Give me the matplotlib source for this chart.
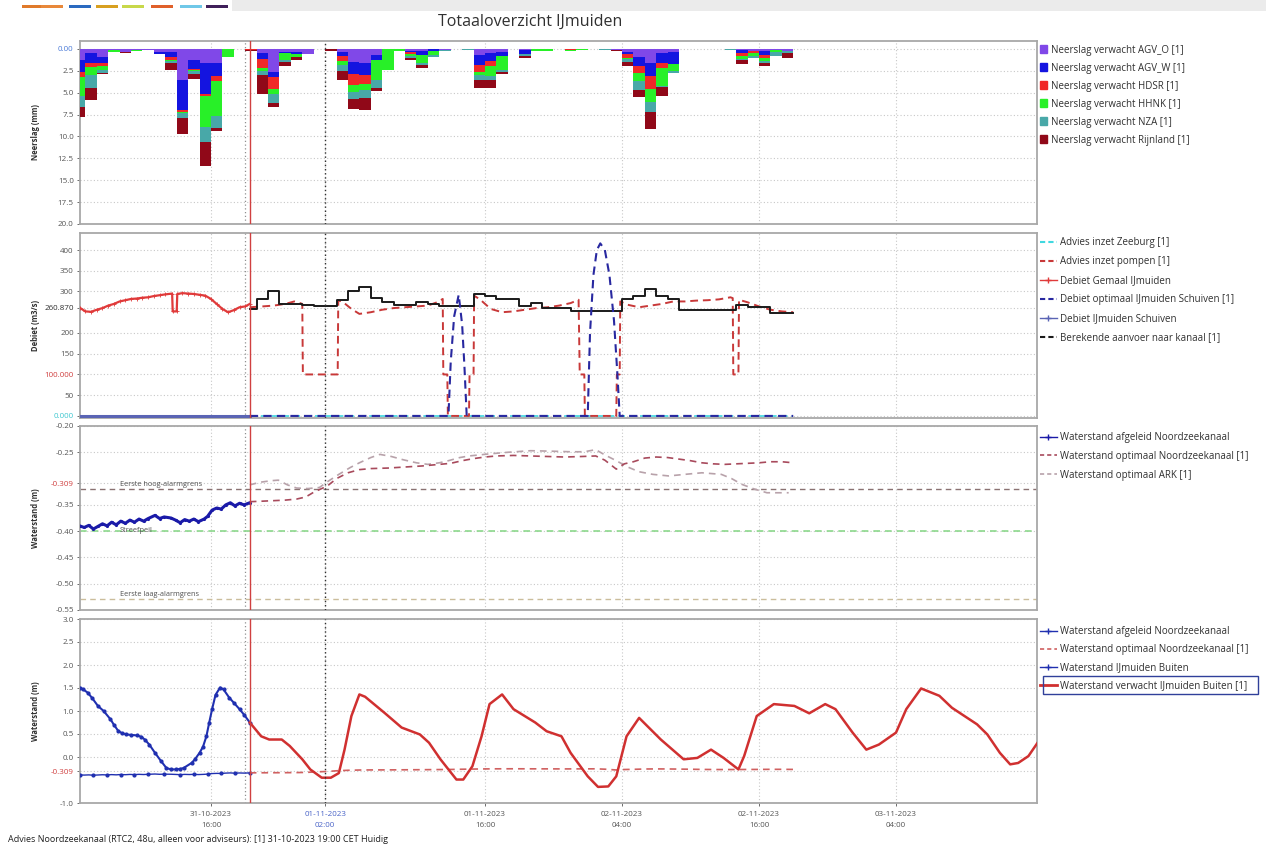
import matplotlib
matplotlib.use("Agg")
import matplotlib.pyplot as plt
from matplotlib.lines import Line2D
from matplotlib.patches import Patch, Rectangle
import numpy as np

plt.rcParams['font.family'] = ['Open Sans', 'DejaVu Sans']

# ---------------- data (time = hours since 31-10-2023 00:00) ----------------
x_ticks = [16, 26, 40, 52, 64, 76]
x_tick_labels = ["31-10-2023\n16:00", "01-11-2023\n02:00", "01-11-2023\n16:00",
                 "02-11-2023\n04:00", "02-11-2023\n16:00", "03-11-2023\n04:00"]
t_forecast = 19.0
t_now = 19.4
t_selected = 26.0
x_start, x_end = 4.53, 88.35

# Panel 1: precipitation, hourly (hour 4 .. 66)
rain_hours = list(range(4, 67))
rain_agv_o = [1.3, 0.45, 0.9, 0.1, 0.3, 0.1, 0.1, 0.3, 0.4, 3.5,
              1.3, 1.6, 1.6, 0, 0, 0, 0.5, 2.6, 0.3, 0.3,
              0.6, 0, 0, 0.4, 1.5, 1.6, 0.7, 0, 0, 0.2,
              0.2, 0, 0.1, 0, 0, 0.7, 0.5, 0.3, 0, 0.1,
              0, 0, 0, 0, 0, 0, 0, 0.1, 0.4, 0.9,
              1.6, 0.5, 0.4, 0, 0, 0, 0, 0, 0.1, 0.2,
              0.2, 0.1, 0.2]
rain_agv_w = [1.3, 1.15, 0.7, 0, 0, 0, 0, 0.3, 0.5, 3.5,
              1.0, 3.5, 1.5, 0, 0, 0, 0.7, 0.6, 0.2, 0.3,
              0, 0, 0, 0.4, 1.4, 1.4, 0.6, 0, 0, 0.2,
              0.5, 0.2, 0, 0, 0, 1.1, 0.9, 0.5, 0, 0.5,
              0, 0, 0, 0, 0, 0, 0, 0, 0.2, 1.0,
              1.5, 1.1, 1.3, 0, 0, 0, 0, 0, 0.4, 0,
              0.5, 0, 0]
rain_hdsr = [0.6, 0.5, 0.4, 0, 0, 0, 0, 0, 0.4, 0.2,
             0.1, 0.3, 0.6, 0, 0, 0.1, 1.0, 1.4, 0, 0,
             0, 0, 0, 0.6, 1.2, 1.0, 0, 0, 0, 0.2,
             0, 0, 0, 0, 0, 0.8, 0.5, 0, 0, 0,
             0, 0, 0, 0.1, 0, 0, 0, 0, 0.4, 0.9,
             1.5, 0.6, 0, 0, 0, 0, 0, 0, 0.3, 0.3,
             0.3, 0, 0]
rain_hhnk = [2.2, 0.9, 0.4, 0.2, 0, 0.1, 0, 0, 0.1, 0.1,
             0.1, 3.5, 4.0, 0.9, 0, 0, 0.3, 0.5, 0.8, 0.3,
             0, 0, 0, 0.4, 0.8, 0.7, 2.2, 2.4, 0.2, 0.2,
             0.9, 0.5, 0, 0, 0, 0.4, 1.2, 1.6, 0, 0,
             0.2, 0.2, 0, 0.1, 0.15, 0, 0, 0, 0.2, 0.9,
             1.5, 2.0, 0.8, 0, 0, 0, 0, 0, 0.3, 0.3,
             0.4, 0.2, 0]
rain_nza = [1.2, 1.5, 0.3, 0, 0, 0, 0, 0, 0.2, 0.6,
            0.4, 1.7, 1.3, 0, 0, 0, 0.5, 1.1, 0.2, 0,
            0, 0, 0, 0.7, 0.8, 0.9, 1.0, 0, 0, 0.2,
            0.2, 0.2, 0.1, 0, 0.1, 0.5, 0.4, 0.2, 0, 0.2,
            0, 0, 0, 0, 0, 0, 0.1, 0, 0.3, 1.0,
            1.1, 0.2, 0.3, 0, 0, 0, 0, 0.1, 0.2, 0.2,
            0.2, 0.5, 0.3]
rain_rijnland = [1.2, 1.3, 0.2, 0.1, 0.2, 0, 0, 0, 0.8, 1.8,
                 0.5, 2.8, 0.4, 0, 0, 0.1, 2.1, 0.4, 0.5, 0.4,
                 0, 0, 0.2, 1.0, 1.2, 1.4, 0.3, 0, 0, 0.3,
                 0.4, 0, 0, 0, 0, 1.0, 1.0, 0.3, 0, 0.2,
                 0, 0, 0, 0, 0, 0, 0, 0.1, 0.4, 0.8,
                 2.0, 1.0, 0, 0, 0, 0, 0, 0, 0.4, 0,
                 0.4, 0, 0.5]
rain_names = ["Neerslag verwacht AGV_O [1]", "Neerslag verwacht AGV_W [1]",
              "Neerslag verwacht HDSR [1]", "Neerslag verwacht HHNK [1]",
              "Neerslag verwacht NZA [1]", "Neerslag verwacht Rijnland [1]"]
rain_colors = ['#8048e8', '#1414e0', '#f02828', '#28f028', '#48a8a8', '#900818']

# Panel 2: discharge (m3/s)
gemaal_t = [4.5, 5.0, 5.5, 6.0, 6.5, 7.0, 7.5, 8.0, 8.5, 9.0, 9.5, 10.0, 10.5, 11.0,
            11.5, 12.0, 12.6, 12.65, 13.0, 13.05, 13.5, 14.0, 14.5, 15.0, 15.5, 16.0,
            16.5, 17.0, 17.5, 18.0, 18.5, 19.0, 19.4]
gemaal_q = [261, 252, 251, 256, 260, 266, 270, 276, 279, 282, 283, 285, 286, 289,
            291, 293, 295, 252, 252, 294, 296, 295, 294, 292, 290, 282,
            270, 258, 250, 255, 262, 264, 270]
schuiven_t = [4.5, 19.4]
schuiven_q = [0, 0]
zeeburg_t = [19.4, 67.0]
zeeburg_q = [0, 0]
pompen_t = [19.4, 20.5, 21.5, 22.5, 23.3, 23.8, 24.0, 24.05, 27.1, 27.15, 27.5, 28.3,
            29.0, 30.0, 31.0, 32.0, 33.0, 34.0, 35.0, 35.8, 36.3, 36.35, 36.7, 36.75,
            38.6, 38.65, 39.0, 39.05, 39.6, 40.5, 41.5, 42.5, 43.5, 44.5, 45.5, 46.5,
            47.5, 48.2, 48.3, 48.7, 48.75, 51.5, 51.55, 51.8, 51.85, 52.5, 53.5, 54.5,
            55.5, 56.5, 57.5, 58.5, 59.5, 60.5, 61.5, 61.7, 61.75, 62.2, 62.25, 63.0,
            64.0, 65.0, 66.0, 67.0]
pompen_q = [262, 264, 266, 270, 276, 272, 270, 100, 100, 278, 276, 258,
            246, 250, 256, 260, 262, 264, 266, 274, 282, 100, 100, 0,
            0, 100, 100, 290, 280, 258, 250, 252, 256, 260, 262, 266,
            272, 280, 100, 100, 0, 0, 100, 100, 276, 268, 262, 266,
            270, 276, 276, 278, 279, 281, 286, 284, 100, 100, 280, 274,
            264, 256, 252, 250]
optimaal_t = [19.4, 36.8, 37.0, 37.3, 37.7, 38.0, 38.2, 38.4, 49.0, 49.2, 49.5, 49.8,
              50.1, 50.5, 50.9, 51.3, 51.6, 51.8, 67.0]
optimaal_q = [0, 0, 130, 240, 292, 220, 120, 0, 0, 200, 340, 400,
              416, 400, 340, 230, 100, 0, 0]
aanvoer_t = [19.4, 20, 21, 22, 24, 25, 27, 28, 29, 30, 31, 32, 34, 35, 36, 39, 40, 41,
             43, 44, 45, 47.5, 52, 53, 54, 55, 56, 57, 62, 63, 65, 67]
aanvoer_q = [258, 282, 300, 270, 268, 264, 280, 302, 310, 284, 274, 268, 274, 270, 266,
             294, 288, 282, 264, 272, 260, 254, 282, 290, 306, 288, 282, 256, 268, 262,
             248, 248]

# Panel 3: canal water level (m)
nzk_afg_t = [4.5, 4.9, 5.3, 5.7, 6.1, 6.5, 6.9, 7.3, 7.7, 8.1, 8.5, 8.9, 9.3, 9.7,
             10.1, 10.5, 11.1, 11.5, 11.9, 12.5, 12.9, 13.3, 13.7, 14.1, 14.5, 14.9,
             15.4, 15.7, 16.1, 16.5, 16.9, 17.3, 17.7, 18.1, 18.5, 18.9, 19.4]
nzk_afg_h = [-0.390, -0.393, -0.389, -0.396, -0.391, -0.386, -0.390, -0.383, -0.388,
             -0.381, -0.385, -0.379, -0.383, -0.377, -0.381, -0.376, -0.370, -0.376,
             -0.373, -0.375, -0.379, -0.384, -0.378, -0.381, -0.377, -0.382, -0.377,
             -0.372, -0.360, -0.356, -0.358, -0.350, -0.346, -0.352, -0.347, -0.350,
             -0.346]
nzk_opt_t = [19.4, 20.5, 21.5, 22.5, 23.5, 24.3, 25.0, 26.2, 27.0, 28.0, 29.0, 30.0,
             31.5, 33.0, 34.5, 36.0, 37.0, 38.0, 39.0, 40.0, 41.0, 42.5, 44.0, 45.5,
             47.0, 48.5, 49.7, 50.5, 51.5, 52.2, 53.0, 54.0, 55.0, 56.0, 57.0, 58.0,
             59.0, 60.0, 61.0, 62.0, 63.0, 64.0, 65.0, 66.0, 67.0]
nzk_opt_h = [-0.344, -0.343, -0.342, -0.341, -0.339, -0.335, -0.326, -0.314, -0.300,
             -0.289, -0.283, -0.281, -0.280, -0.278, -0.276, -0.273, -0.271, -0.266,
             -0.262, -0.259, -0.257, -0.256, -0.257, -0.258, -0.259, -0.258, -0.257,
             -0.265, -0.282, -0.272, -0.268, -0.261, -0.259, -0.260, -0.263, -0.266,
             -0.270, -0.272, -0.273, -0.272, -0.271, -0.270, -0.268, -0.268, -0.270]
ark_opt_t = [19.4, 20.3, 21.3, 21.9, 22.7, 23.5, 24.5, 25.5, 26.2, 27.2, 28.2, 29.0,
             30.0, 30.8, 31.8, 32.8, 34.0, 35.0, 36.0, 36.8, 37.8, 38.6, 40.4, 42.0,
             44.0, 46.0, 47.5, 48.7, 49.7, 50.5, 51.5, 52.5, 53.5, 54.7, 56.1, 57.5,
             59.0, 60.7, 61.6, 62.5, 63.6, 64.7, 66.6]
ark_opt_h = [-0.312, -0.307, -0.304, -0.303, -0.312, -0.318, -0.319, -0.317, -0.306,
             -0.292, -0.279, -0.270, -0.260, -0.254, -0.258, -0.264, -0.270, -0.273,
             -0.270, -0.266, -0.260, -0.257, -0.253, -0.250, -0.247, -0.248, -0.249,
             -0.249, -0.245, -0.255, -0.266, -0.278, -0.287, -0.292, -0.295, -0.292,
             -0.289, -0.292, -0.300, -0.311, -0.320, -0.327, -0.327]
alarm_high = -0.32
streefpeil = -0.40
alarm_low = -0.53

# Panel 4: sea water level IJmuiden Buiten (m)
buiten_t = [4.5, 4.8, 5.2, 5.6, 6.1, 6.6, 7.2, 7.5, 7.9, 8.2, 8.6, 9.0, 9.5, 9.9, 10.2,
            10.6, 11.1, 11.6, 12.1, 12.5, 12.9, 13.3, 13.6, 14.3, 14.6, 15.0, 15.3, 15.6,
            15.85, 16.1, 16.4, 16.8, 17.1, 17.6, 18.0, 18.5, 18.9, 19.4]
buiten_h = [1.51, 1.47, 1.40, 1.28, 1.11, 1.00, 0.82, 0.70, 0.56, 0.52, 0.49, 0.48, 0.47,
            0.44, 0.38, 0.27, 0.09, -0.08, -0.24, -0.27, -0.27, -0.26, -0.24, -0.13, -0.05,
            0.09, 0.22, 0.45, 0.75, 1.04, 1.35, 1.51, 1.47, 1.29, 1.18, 1.04, 0.92, 0.75]
verwacht_t = [19.4, 20.4, 21.1, 22.2, 22.9, 24.0, 24.7, 25.7, 26.5, 27.2, 27.7, 28.3,
              29.0, 29.5, 31.2, 32.7, 34.3, 35.1, 36.1, 37.5, 38.1, 38.9, 39.7, 40.4,
              41.5, 42.5, 44.4, 45.4, 46.7, 47.5, 49.0, 49.9, 50.8, 51.5, 52.4, 53.5,
              55.4, 57.4, 58.6, 59.8, 60.9, 62.2, 62.7, 63.8, 65.3, 67.1, 68.4, 69.8,
              70.7, 72.2, 73.4, 74.5, 76.0, 76.9, 78.2, 79.8, 80.9, 83.1, 84.0, 85.1,
              86.0, 86.7, 87.6, 88.4]
verwacht_h = [0.75, 0.45, 0.38, 0.38, 0.24, -0.05, -0.27, -0.45, -0.45, -0.35, 0.16, 0.89,
              1.36, 1.31, 0.96, 0.64, 0.49, 0.31, -0.05, -0.49, -0.49, -0.20, 0.45, 1.15,
              1.36, 1.04, 0.75, 0.56, 0.45, 0.09, -0.42, -0.65, -0.64, -0.42, 0.45, 0.85,
              0.38, -0.05, -0.02, 0.16, -0.02, -0.27, 0.02, 0.89, 1.15, 1.11, 0.95, 1.15,
              1.04, 0.53, 0.16, 0.27, 0.53, 1.04, 1.49, 1.33, 1.07, 0.71, 0.49, 0.09,
              -0.16, -0.13, 0.02, 0.31]

# ---------------- figure ----------------
W, H = 1266, 848
fig = plt.figure(figsize=(W / 100, H / 100), dpi=100)


def fx(px):
    return px / W


def fy(py):
    return 1 - py / H


def make_axes(top, bottom):
    return fig.add_axes([fx(80), fy(bottom), fx(1037) - fx(80), (bottom - top) / H])


ax1 = make_axes(41, 224)
ax2 = make_axes(233, 418)
ax3 = make_axes(426, 610)
ax4 = make_axes(619, 803)

GRID = '#c8c8c8'
TXT = '#555555'


def style_axes(ax, show_x=False):
    for s in ax.spines.values():
        s.set_color('#a8a8a8')
        s.set_linewidth(1.3)
    ax.set_xlim(x_start, x_end)
    ax.set_xticks(x_ticks)
    ax.grid(True, color=GRID, linestyle=(0, (1, 2)), linewidth=0.8)
    ax.set_axisbelow(True)
    ax.tick_params(axis='both', labelsize=5.8, colors=TXT, length=2.5, width=0.6, pad=2)
    if show_x:
        ax.set_xticklabels(x_tick_labels, linespacing=1.9)
        ax.tick_params(axis='x', pad=3)
        for i, lab in enumerate(ax.get_xticklabels()):
            lab.set_color('#4a64c8' if i == 1 else TXT)
    else:
        ax.set_xticklabels([])
        ax.tick_params(axis='x', length=0)
    ax.axvline(t_forecast, color='#909090', ls=(0, (1, 2)), lw=0.9, zorder=1)
    ax.axvline(t_now, color='#d04040', lw=1.0, zorder=6)
    ax.axvline(t_selected, color='#303030', ls=(0, (1, 2)), lw=1.0, zorder=6)


def ylabel(ax, text):
    ax.set_ylabel(text, fontsize=5.5, fontweight='bold', color='#303030')
    ax.yaxis.set_label_coords(-0.042, 0.5)


def legend(ax, handles, labels, top, **kw):
    opts = dict(loc='upper left', bbox_to_anchor=(fx(1040), fy(top)),
                bbox_transform=fig.transFigure, frameon=False, fontsize=7,
                labelspacing=0.85, borderaxespad=0, borderpad=0)
    opts.update(kw)
    leg = ax.legend(handles, labels, **opts)
    for t in leg.get_texts():
        t.set_color('#303030')
    return leg


# ---- Panel 1: precipitation ----
style_axes(ax1)
bottom = np.zeros(len(rain_hours))
for vals, col in zip([rain_agv_o, rain_agv_w, rain_hdsr, rain_hhnk, rain_nza, rain_rijnland],
                     rain_colors):
    ax1.bar(rain_hours, vals, width=1.0, align='edge', bottom=bottom, color=col,
            linewidth=0, zorder=3)
    bottom = bottom + np.array(vals)
ax1.set_ylim(20, -0.9)
p1_ticks = [0, 2.5, 5.0, 7.5, 10.0, 12.5, 15.0, 17.5, 20.0]
ax1.set_yticks(p1_ticks)
ax1.set_yticklabels(["0.00"] + [f"{v:.1f}" for v in p1_ticks[1:]])
ax1.get_yticklabels()[0].set_color('#4a7ad8')
ylabel(ax1, "Neerslag (mm)")
legend(ax1, [Patch(color=c) for c in rain_colors], rain_names, 44.5,
       handlelength=0.7, handleheight=0.8, handletextpad=0.45, labelspacing=0.72)

# ---- Panel 2: discharge ----
style_axes(ax2)
ax2.plot(schuiven_t, schuiven_q, color='#5a64b4', lw=2.2, zorder=3)
ax2.plot(zeeburg_t, zeeburg_q, color='#40d8e0', lw=1.2, ls=(0, (4, 2.5)), zorder=3)
ax2.plot(gemaal_t, gemaal_q, color='#e03a3a', lw=1.6, marker='+', ms=2.5, mew=0.6, zorder=4)
ax2.plot(pompen_t, pompen_q, color='#c83838', lw=1.4, ls=(0, (4, 2.5)), zorder=4)
ax2.step(aanvoer_t, aanvoer_q, where='post', color='#1a1a1a', lw=1.4, zorder=5)
ax2.plot(optimaal_t, optimaal_q, color='#2828a0', lw=1.5, ls=(0, (4, 2.5)), zorder=5)
ax2.set_ylim(-5, 441)
p2_ticks = [0, 50, 100, 150, 200, 260.87, 300, 350, 400]
p2_labels = ["0.000", "50", "100.000", "150", "200", "260.870", "300", "350", "400"]
ax2.set_yticks(p2_ticks)
ax2.set_yticklabels(p2_labels)
ax2.get_yticklabels()[0].set_color('#40c8d0')
ax2.get_yticklabels()[2].set_color('#d04040')
ax2.get_yticklabels()[5].set_color('#303030')
ylabel(ax2, "Debiet (m3/s)")
h2 = [Line2D([], [], color='#40d8e0', lw=1.5, ls=(0, (2.5, 1.5))),
      Line2D([], [], color='#c83838', lw=1.5, ls=(0, (2.5, 1.5))),
      Line2D([], [], color='#e03a3a', lw=1.0, marker='+', ms=4),
      Line2D([], [], color='#2828a0', lw=1.5, ls=(0, (2.5, 1.5))),
      Line2D([], [], color='#5a64b4', lw=1.0, marker='+', ms=4),
      Line2D([], [], color='#1a1a1a', lw=1.5, ls=(0, (2.5, 1.5)))]
l2 = ["Advies inzet Zeeburg [1]", "Advies inzet pompen [1]", "Debiet Gemaal IJmuiden",
      "Debiet optimaal IJmuiden Schuiven [1]", "Debiet IJmuiden Schuiven",
      "Berekende aanvoer naar kanaal [1]"]
legend(ax2, h2, l2, 237, handlelength=1.7, handletextpad=0.35, labelspacing=0.83)

# ---- Panel 3: canal level ----
style_axes(ax3)
ax3.axhline(alarm_high, color='#8a7272', ls=(0, (4, 3)), lw=1.0, zorder=2)
ax3.axhline(streefpeil, color='#8cd88c', ls=(0, (4, 3)), lw=1.2, zorder=2)
ax3.axhline(alarm_low, color='#cbbd9c', ls=(0, (4, 3)), lw=1.0, zorder=2)
ax3.text(8.0, alarm_high + 0.002, "Eerste hoog-alarmgrens", fontsize=5.3, color='#505050',
         va='bottom', ha='left')
ax3.text(8.0, streefpeil + 0.002, "Streefpeil", fontsize=5.3, color='#505050',
         va='center', ha='left')
ax3.text(8.0, alarm_low + 0.002, "Eerste laag-alarmgrens", fontsize=5.3, color='#505050',
         va='bottom', ha='left')
ax3.plot(nzk_afg_t, nzk_afg_h, color='#1a1aa8', lw=2.2, marker='.', ms=2.5, zorder=4)
ax3.plot(ark_opt_t, ark_opt_h, color='#b8a2aa', lw=1.2, ls=(0, (4, 3)), zorder=4)
ax3.plot(nzk_opt_t, nzk_opt_h, color='#a84a5c', lw=1.2, ls=(0, (4, 3)), zorder=4)
ax3.set_ylim(-0.55, -0.20)
p3_ticks = [-0.55, -0.50, -0.45, -0.40, -0.35, -0.309, -0.25, -0.20]
ax3.set_yticks(p3_ticks)
ax3.set_yticklabels([f"{v:.2f}" if i != 5 else "-0.309" for i, v in enumerate(p3_ticks)])
ax3.get_yticklabels()[5].set_color('#d04040')
ylabel(ax3, "Waterstand (m)")
h3 = [Line2D([], [], color='#1a1aa8', lw=1.0, marker='+', ms=4),
      Line2D([], [], color='#a84a5c', lw=1.2, ls=(0, (2.5, 1.8))),
      Line2D([], [], color='#b8a2aa', lw=1.2, ls=(0, (2.5, 1.8)))]
l3 = ["Waterstand afgeleid Noordzeekanaal", "Waterstand optimaal Noordzeekanaal [1]",
      "Waterstand optimaal ARK [1]"]
legend(ax3, h3, l3, 432, handlelength=1.7, handletextpad=0.35, labelspacing=0.8)

# ---- Panel 4: sea level ----
style_axes(ax4, show_x=True)
ax4.plot(buiten_t, buiten_h, color='#2030b0', lw=1.5, marker='o', ms=2, zorder=4)
ax4.plot(nzk_afg_t, nzk_afg_h, color='#2030b0', lw=1.0, marker='o', ms=2, markevery=3,
         zorder=4)
ax4.plot(nzk_opt_t, nzk_opt_h, color='#d06060', lw=1.2, ls=(0, (4, 3)), zorder=4)
ax4.plot(verwacht_t, verwacht_h, color='#d03030', lw=1.8, zorder=5)
ax4.set_ylim(-1.0, 3.0)
p4_ticks = [-1.0, -0.309, 0.0, 0.5, 1.0, 1.5, 2.0, 2.5, 3.0]
ax4.set_yticks(p4_ticks)
ax4.set_yticklabels([f"{v:.1f}" if i != 1 else "-0.309" for i, v in enumerate(p4_ticks)])
ax4.get_yticklabels()[1].set_color('#d04040')
ylabel(ax4, "Waterstand (m)")
h4 = [Line2D([], [], color='#2030b0', lw=1.0, marker='+', ms=4),
      Line2D([], [], color='#d06060', lw=1.2, ls=(0, (2.5, 1.8))),
      Line2D([], [], color='#2030b0', lw=1.0, marker='+', ms=4),
      Line2D([], [], color='#d03030', lw=2.0)]
l4 = ["Waterstand afgeleid Noordzeekanaal", "Waterstand optimaal Noordzeekanaal [1]",
      "Waterstand IJmuiden Buiten", "Waterstand verwacht IJmuiden Buiten [1]"]
legend(ax4, h4, l4, 626, handlelength=1.7, handletextpad=0.35, labelspacing=0.72)
fig.patches.append(Rectangle((fx(1043), fy(694)), fx(1258) - fx(1043), (694 - 676) / H,
                             transform=fig.transFigure, fill=False,
                             edgecolor='#30409a', lw=1.0))

# ---- window chrome, title, footer ----
fig.patches.append(Rectangle((fx(232), fy(11)), 1 - fx(232), 11 / H, transform=fig.transFigure,
                             facecolor='#ebebeb', edgecolor='none', zorder=0))
chrome_x = [22, 41, 69, 96, 122, 151, 180, 206]
chrome_c = ['#e07a2a', '#e8883a', '#2a6ac0', '#d8a020', '#c8d84a', '#e0602a', '#70c8e8', '#40205a']
for xx, cc in zip(chrome_x, chrome_c):
    fig.patches.append(Rectangle((fx(xx), fy(8)), 22 / W, 3 / H, transform=fig.transFigure,
                                 facecolor=cc, edgecolor='none'))

fig.text(fx(530), fy(22), "Totaaloverzicht IJmuiden", fontsize=11.5, ha='center',
         va='center', color='#303030')
fig.text(fx(8), fy(840),
         "Advies Noordzeekanaal (RTC2, 48u, alleen voor adviseurs): [1] 31-10-2023 19:00 CET Huidig",
         fontsize=6.5, ha='left', va='center', color='#202020')

fig.savefig("out.png", dpi=100, facecolor='white')
